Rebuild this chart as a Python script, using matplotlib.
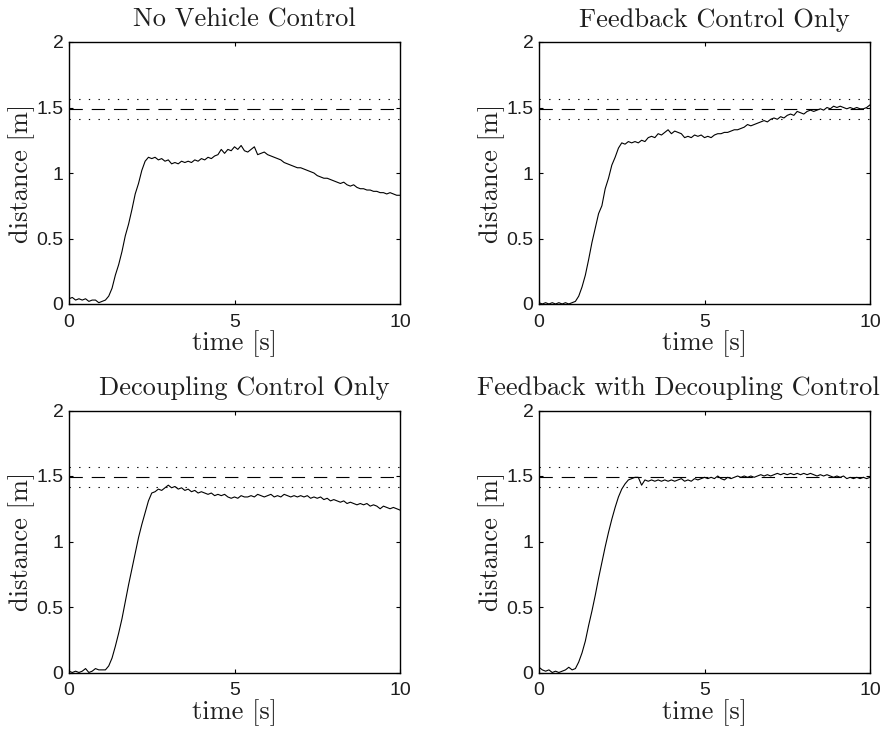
import numpy as np
import matplotlib
matplotlib.use('Agg')
import matplotlib.pyplot as plt

# sampled every 0.1 s, 0..10 s
time_s = np.linspace(0.0, 10.0, 101)

dist_none = [
	0.04, 0.05, 0.03, 0.04, 0.03, 0.04, 0.02, 0.03, 0.03, 0.01,
	0.02, 0.03, 0.06, 0.12, 0.22, 0.30, 0.40, 0.52, 0.61, 0.72,
	0.84, 0.92, 1.02, 1.09, 1.12, 1.11, 1.12, 1.10, 1.11, 1.09,
	1.10, 1.07, 1.08, 1.07, 1.09, 1.08, 1.09, 1.08, 1.10, 1.09,
	1.11, 1.10, 1.12, 1.11, 1.13, 1.14, 1.18, 1.15, 1.18, 1.17,
	1.20, 1.18, 1.21, 1.17, 1.16, 1.18, 1.20, 1.14, 1.15, 1.16,
	1.14, 1.13, 1.12, 1.11, 1.10, 1.08, 1.07, 1.06, 1.05, 1.04,
	1.04, 1.03, 1.02, 1.01, 1.00, 0.98, 0.97, 0.96, 0.96, 0.95,
	0.94, 0.93, 0.92, 0.93, 0.91, 0.90, 0.91, 0.89, 0.88, 0.88,
	0.87, 0.87, 0.86, 0.86, 0.85, 0.85, 0.84, 0.85, 0.84, 0.83, 0.83]

dist_feedback = [
	0.01, 0.00, 0.01, 0.00, 0.01, 0.00, 0.01, 0.00, 0.01, 0.00,
	0.01, 0.02, 0.06, 0.13, 0.22, 0.34, 0.47, 0.58, 0.69, 0.75,
	0.88, 0.96, 1.06, 1.12, 1.19, 1.23, 1.22, 1.24, 1.23, 1.24,
	1.23, 1.25, 1.24, 1.27, 1.28, 1.27, 1.30, 1.29, 1.31, 1.33,
	1.30, 1.32, 1.31, 1.30, 1.27, 1.28, 1.27, 1.29, 1.28, 1.29,
	1.27, 1.28, 1.27, 1.29, 1.30, 1.30, 1.31, 1.31, 1.32, 1.33,
	1.33, 1.34, 1.35, 1.37, 1.36, 1.37, 1.38, 1.39, 1.40, 1.39,
	1.41, 1.42, 1.41, 1.43, 1.42, 1.44, 1.45, 1.44, 1.47, 1.46,
	1.45, 1.47, 1.48, 1.47, 1.48, 1.49, 1.48, 1.50, 1.49, 1.51,
	1.50, 1.51, 1.50, 1.49, 1.50, 1.49, 1.50, 1.49, 1.49, 1.50, 1.52]

dist_decoupling = [
	0.01, 0.00, 0.01, 0.00, 0.01, 0.03, 0.00, 0.01, 0.03, 0.02,
	0.02, 0.02, 0.05, 0.11, 0.20, 0.30, 0.41, 0.54, 0.67, 0.79,
	0.91, 1.03, 1.13, 1.22, 1.31, 1.37, 1.38, 1.40, 1.39, 1.41,
	1.43, 1.41, 1.42, 1.40, 1.41, 1.39, 1.40, 1.38, 1.39, 1.37,
	1.38, 1.37, 1.36, 1.37, 1.35, 1.36, 1.35, 1.36, 1.34, 1.33,
	1.34, 1.33, 1.35, 1.34, 1.34, 1.35, 1.34, 1.36, 1.35, 1.34,
	1.35, 1.36, 1.34, 1.35, 1.34, 1.36, 1.35, 1.34, 1.35, 1.34,
	1.35, 1.34, 1.35, 1.33, 1.34, 1.33, 1.34, 1.32, 1.33, 1.31,
	1.32, 1.31, 1.30, 1.31, 1.29, 1.30, 1.29, 1.28, 1.29, 1.28,
	1.29, 1.27, 1.28, 1.27, 1.25, 1.27, 1.26, 1.25, 1.26, 1.25, 1.24]

dist_combined = [
	0.04, 0.02, 0.01, 0.02, 0.00, 0.01, 0.00, 0.01, 0.02, 0.04,
	0.02, 0.03, 0.08, 0.15, 0.24, 0.36, 0.47, 0.59, 0.72, 0.84,
	0.96, 1.07, 1.17, 1.26, 1.34, 1.40, 1.44, 1.47, 1.48, 1.49,
	1.49, 1.43, 1.47, 1.46, 1.47, 1.46, 1.47, 1.46, 1.47, 1.46,
	1.47, 1.46, 1.47, 1.48, 1.46, 1.47, 1.46, 1.48, 1.47, 1.48,
	1.49, 1.48, 1.49, 1.48, 1.50, 1.48, 1.47, 1.49, 1.48, 1.49,
	1.50, 1.49, 1.50, 1.49, 1.50, 1.49, 1.50, 1.51, 1.50, 1.51,
	1.50, 1.51, 1.52, 1.51, 1.52, 1.51, 1.52, 1.51, 1.52, 1.51,
	1.52, 1.51, 1.52, 1.51, 1.50, 1.51, 1.50, 1.51, 1.50, 1.49,
	1.50, 1.49, 1.50, 1.48, 1.49, 1.48, 1.49, 1.48, 1.49, 1.48, 1.49]

titles = ["No Vehicle Control", "Feedback Control Only",
	"Decoupling Control Only", "Feedback with Decoupling Control"]

target = 1.49
band = [1.565, 1.415]

yticks = [0, 0.5, 1, 1.5, 2]
ytick_labels = ["0", "0.5", "1", "1.5", "2"]
xticks = [0, 5, 10]
xtick_labels = ["0", "5", "10"]

SERIF = ['cmr10', 'Liberation Serif', 'DejaVu Serif']
SANS = ['Liberation Sans', 'DejaVu Sans']
TXT = '#1e1e1e'


def draw_panel(fig, rect, y, title, title_x):
	ax = fig.add_axes(rect)
	ax.plot(time_s, y, color='black', linewidth=0.8)
	ax.axhline(target, color='black', linewidth=0.8, dashes=(12, 8))
	for b in band:
		ax.axhline(b, color='black', linewidth=0.8, dashes=(1.2, 7.5))
	ax.set_xlim(0, 10)
	ax.set_ylim(0, 2)
	ax.set_xticks(xticks)
	ax.set_xticklabels(xtick_labels, family=SANS, fontsize=14, color=TXT)
	ax.set_yticks(yticks)
	ax.set_yticklabels(ytick_labels, family=SANS, fontsize=14, color=TXT)
	ax.tick_params(direction='in', length=3, width=0.8, top=True, right=True)
	ax.tick_params(axis='x', pad=7)
	ax.tick_params(axis='y', pad=4)
	for s in ax.spines.values():
		s.set_linewidth(1.0)
	ax.set_xlabel("time [s]", family=SERIF, fontsize=19, labelpad=0, color=TXT)
	ax.set_ylabel("distance [m]", family=SERIF, fontsize=19, labelpad=1, color=TXT)
	ax.set_title(title, family=SERIF, fontsize=19, x=title_x, pad=11, color=TXT)
	return ax


def main():
	fig = plt.figure(figsize=(8.89, 7.31), dpi=100)
	w = 331 / 889
	h = 262 / 731
	left_col = 69 / 889
	right_col = 539 / 889
	top_row = 1 - 304 / 731
	bottom_row = 1 - 672.5 / 731
	draw_panel(fig, [left_col, top_row, w, h], dist_none, titles[0], 0.53)
	draw_panel(fig, [right_col, top_row, w, h], dist_feedback, titles[1], 0.53)
	draw_panel(fig, [left_col, bottom_row, w, h], dist_decoupling, titles[2], 0.53)
	draw_panel(fig, [right_col, bottom_row, w, h], dist_combined, titles[3], 0.42)
	fig.savefig("out.png", dpi=100)


if __name__ == '__main__':
	main()
